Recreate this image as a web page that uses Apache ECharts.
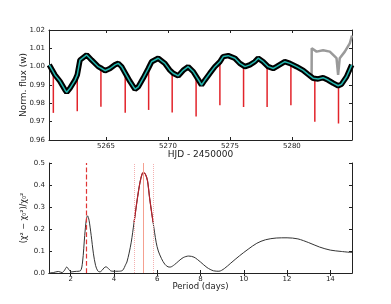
<!DOCTYPE html>
<html><head><meta charset="utf-8">
<script src="https://cdn.jsdelivr.net/npm/echarts@6/dist/echarts.min.js"></script>
<style>html,body{margin:0;padding:0;background:#fff}#c{width:391px;height:304px}</style>
</head><body><div id="c"></div>
<script>
// ---- Top panel: light curve ----
const fitTimes = [5260.42,5260.48,5260.88,5261.29,5261.69,5261.83,5262.09,5262.50,5262.68,5262.90,5263.44,5263.84,5264.38,5264.65,5264.92,5265.32,5265.72,5265.99,5266.26,5266.53,5266.93,5267.34,5267.60,5268.00,5268.41,5268.68,5269.21,5269.75,5270.16,5270.42,5270.83,5271.23,5271.63,5272.04,5272.44,5272.71,5272.98,5273.38,5273.79,5274.19,5274.46,5274.86,5275.40,5275.80,5276.21,5276.61,5277.01,5277.28,5277.68,5278.09,5278.49,5278.76,5279.43,5279.84,5280.38,5280.91,5281.31,5281.71,5282.12,5282.52,5282.92,5283.33,5283.73,5284.00,5284.41,5284.83];
const fitFlux = [1.001,1.001,0.9955,0.992,0.9873,0.986,0.9882,0.9927,0.9955,1.0036,1.0064,1.0036,1.000,0.999,0.9978,0.999,1.001,1.0018,1.000,0.9968,0.992,0.9877,0.989,0.9937,0.999,1.0027,1.0046,1.0018,0.998,0.9964,0.995,0.998,1.000,0.9973,0.993,0.990,0.9927,0.9964,1.000,1.0027,1.0055,1.006,1.0046,1.0018,1.000,1.001,1.0027,1.0046,1.0027,1.000,0.999,1.000,1.0027,1.0018,1.000,0.998,0.9958,0.9937,0.9933,0.994,0.9927,0.991,0.9896,0.9904,0.9945,1.001];
const grayTimes = [5281.59,5281.60,5281.69,5281.99,5282.52,5283.06,5283.60,5283.73,5283.86,5284.27,5284.67,5284.85];
const grayFlux  = [0.994,1.010,1.010,1.0082,1.009,1.0082,1.0046,0.9955,1.0046,1.0082,1.0127,1.017];
const dipTimes  = [5260.75,5262.68,5264.59,5266.55,5268.44,5270.34,5272.27,5274.19,5276.10,5278.00,5279.92,5281.85,5283.76];
const dipTops   = [0.997,0.9955,0.999,0.997,0.999,0.997,0.995,1.002,1.000,1.000,1.001,0.993,0.989];
const dipBottoms= [0.9748,0.9757,0.9782,0.9748,0.9764,0.975,0.9728,0.979,0.978,0.978,0.979,0.970,0.969];
const topXTicks = [5265,5270,5275,5280];
const topYTicks = [0.96,0.97,0.98,0.99,1.00,1.01,1.02];

// ---- Bottom panel: periodogram ----
const periods = [1.0,1.2,1.43,1.6,1.7,1.82,1.92,2.02,2.2,2.45,2.55,2.65,2.72,2.78,2.85,2.95,3.05,3.15,3.25,3.35,3.45,3.55,3.63,3.75,3.85,3.95,4.2,4.4,4.55,4.6,4.7,4.8,4.93,5.0,5.1,5.2,5.3,5.36,5.45,5.55,5.65,5.75,5.81,5.95,6.05,6.2,6.35,6.5,6.6,6.8,7.0,7.2,7.45,7.7,8.0,8.3,8.6,8.85,9.1,9.4,9.8,10.2,10.6,11.0,11.5,12.0,12.5,13.0,13.5,14.0,14.5,15.0];
const power   = [0.0,0.002,0.007,0.002,0.01,0.027,0.015,0.005,0.007,0.01,0.05,0.17,0.24,0.26,0.24,0.17,0.09,0.035,0.01,0.005,0.012,0.024,0.028,0.02,0.01,0.008,0.008,0.012,0.04,0.05,0.09,0.14,0.23,0.28,0.35,0.41,0.45,0.456,0.45,0.42,0.34,0.27,0.23,0.14,0.10,0.065,0.04,0.028,0.027,0.038,0.055,0.07,0.077,0.072,0.05,0.025,0.01,0.008,0.02,0.045,0.078,0.108,0.135,0.151,0.159,0.16,0.155,0.138,0.118,0.104,0.098,0.093];
const bestPeriod = 5.36;
const periodErr = [4.93, 5.81];
const halfPeriod = 2.70;
const botXTicks = [2,4,6,8,10,12,14];
const botYTicks = [0,0.1,0.2,0.3,0.4,0.5];

const FONT = 'DejaVu Sans';
const zip = (a,b) => a.map((v,i)=>[v,b[i]]);
const lbl = {fontFamily: FONT, fontSize: 7, color: '#222'};
const axLine = {show:true, lineStyle:{color:'#222', width:1}};
const tick = (vals) => ({show:true, inside:true, length:3, lineStyle:{color:'#222'}, customValues: vals});

const chart = echarts.init(document.getElementById('c'), null, {renderer:'canvas'});
chart.setOption({
  animation:false,
  backgroundColor:'#fff',
  grid:[
    {left:49, top:30, width:303, height:110},
    {left:49, top:163, width:303, height:110}
  ],
  xAxis:[
    {type:'value', gridIndex:0, min:5260.4, max:5284.85, axisLine:axLine, axisTick:tick(topXTicks),
     axisLabel:Object.assign({customValues:topXTicks, margin:3, formatter:v=>String(v)}, lbl), splitLine:{show:false},
     name:'HJD - 2450000', nameLocation:'middle', nameGap:10, nameMoveOverlap:false,
     nameTextStyle:{fontFamily:FONT, fontSize:9, color:'#222'}},
    {type:'value', gridIndex:0, position:'top', min:5260.4, max:5284.85, axisLine:axLine, axisTick:tick(topXTicks),
     axisLabel:{show:false}, splitLine:{show:false}},
    {type:'value', gridIndex:1, min:1, max:15, axisLine:axLine, axisTick:tick(botXTicks),
     axisLabel:Object.assign({customValues:botXTicks, margin:3, formatter:v=>String(v)}, lbl), splitLine:{show:false},
     name:'Period (days)', nameLocation:'middle', nameGap:9, nameMoveOverlap:false,
     nameTextStyle:{fontFamily:FONT, fontSize:8.5, color:'#222'}},
    {type:'value', gridIndex:1, position:'top', min:1, max:15, axisLine:axLine, axisTick:tick(botXTicks),
     axisLabel:{show:false}, splitLine:{show:false}}
  ],
  yAxis:[
    {type:'value', gridIndex:0, min:0.96, max:1.02, axisLine:axLine, axisTick:tick(topYTicks),
     axisLabel:Object.assign({customValues:topYTicks, margin:4, formatter:v=>v.toFixed(2)}, lbl), splitLine:{show:false},
     name:'Norm. flux (w)', nameLocation:'middle', nameGap:21, nameMoveOverlap:false,
     nameTextStyle:{fontFamily:FONT, fontSize:9, color:'#222'}},
    {type:'value', gridIndex:0, position:'right', min:0.96, max:1.02, axisLine:axLine, axisTick:tick(topYTicks),
     axisLabel:{show:false}, splitLine:{show:false}},
    {type:'value', gridIndex:1, min:0, max:0.5, axisLine:axLine, axisTick:tick(botYTicks),
     axisLabel:Object.assign({customValues:botYTicks, margin:4, formatter:v=>v.toFixed(1)}, lbl), splitLine:{show:false},
     name:'(χ² − χ₀²)/χ₀²', nameLocation:'middle', nameGap:21, nameMoveOverlap:false,
     nameTextStyle:{fontFamily:FONT, fontSize:8, color:'#222'}},
    {type:'value', gridIndex:1, position:'right', min:0, max:0.5, axisLine:axLine, axisTick:tick(botYTicks),
     axisLabel:{show:false}, splitLine:{show:false}}
  ],
  series:[
    {type:'line', xAxisIndex:0, yAxisIndex:0, data:zip(grayTimes, grayFlux), symbol:'none',
     lineStyle:{color:'#9a9a9a', width:2.5}, z:1},
    {type:'custom', xAxisIndex:0, yAxisIndex:0, z:2,
     data: dipTimes.map((t,i)=>[t, dipTops[i], dipBottoms[i]]),
     renderItem:(params, api)=>{
       const p1 = api.coord([api.value(0), api.value(1)]);
       const p2 = api.coord([api.value(0), api.value(2)]);
       return {type:'line', shape:{x1:p1[0], y1:p1[1], x2:p2[0], y2:p2[1]},
               style:{stroke:'#e2232a', lineWidth:1.5}};
     }},
    {type:'line', xAxisIndex:0, yAxisIndex:0, data:zip(fitTimes, fitFlux), symbol:'none',
     lineStyle:{color:'#000', width:5.5}, z:3},
    {type:'line', xAxisIndex:0, yAxisIndex:0, data:zip(fitTimes, fitFlux), symbol:'none',
     lineStyle:{color:'#22b5ad', width:1.5}, z:4},
    {type:'line', xAxisIndex:2, yAxisIndex:2, data:zip(periods, power), symbol:'none', smooth:0.3,
     lineStyle:{color:'#333', width:1}, z:3,
     markLine:{symbol:'none', silent:true, label:{show:false}, animation:false,
       data:[
         {xAxis:halfPeriod, lineStyle:{color:'#e03535', type:'dashed', width:1.2}},
         {xAxis:bestPeriod, lineStyle:{color:'#f5a090', type:'solid', width:1}},
         {xAxis:periodErr[0], lineStyle:{color:'#f3b0b0', type:'dotted', width:1}},
         {xAxis:periodErr[1], lineStyle:{color:'#f3b0b0', type:'dotted', width:1}}
       ]}},
    {type:'line', xAxisIndex:2, yAxisIndex:2, symbol:'none', smooth:0.3, z:4,
     data:zip(periods, power).filter(d=>d[0]>=periodErr[0] && d[0]<=periodErr[1]),
     lineStyle:{color:'#b8202a', width:1.2}}
  ]
});
</script></body></html>
